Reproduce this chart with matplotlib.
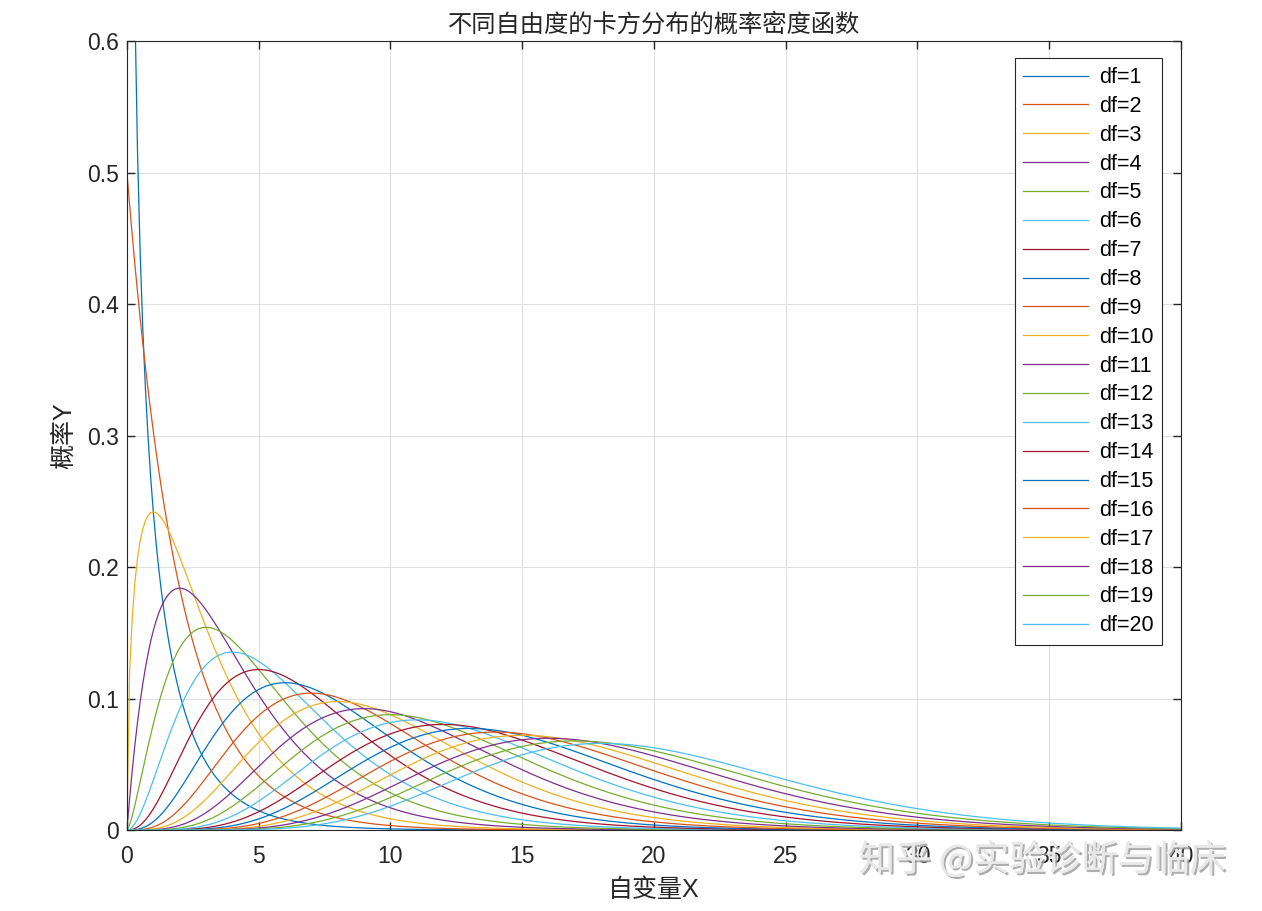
import math
import numpy as np
import matplotlib
matplotlib.use('Agg')
import matplotlib.pyplot as plt
import matplotlib.patheffects as pe

plt.rcParams['font.family'] = ['Liberation Sans', 'Noto Sans CJK SC', 'DejaVu Sans']

# degrees of freedom shown, x grid of the original MATLAB script
dfs = list(range(1, 21))
x = np.arange(0, 40.01, 0.1)
legend_labels = ['df=%d' % k for k in dfs]
x_ticks = [0, 5, 10, 15, 20, 25, 30, 35, 40]
y_ticks = [0, 0.1, 0.2, 0.3, 0.4, 0.5, 0.6]

# MATLAB default color order
colors = ['#0072BD', '#D95319', '#EDB120', '#7E2F8E', '#77AC30', '#4DBEEE', '#A2142F']


def chi2_pdf(xv, k):
    with np.errstate(divide='ignore', invalid='ignore'):
        y = xv ** (k / 2 - 1) * np.exp(-xv / 2) / (2 ** (k / 2) * math.gamma(k / 2))
    return y


fig = plt.figure(figsize=(12.62, 9.11), dpi=100)
ax = fig.add_axes([0.1006, 0.0889, 0.8352, 0.866])

for i, k in enumerate(dfs):
    ax.plot(x, chi2_pdf(x, k), color=colors[i % len(colors)], lw=0.9, label=legend_labels[i])

ax.set_xlim(0, 40)
ax.set_ylim(0, 0.6)
ax.set_xticks(x_ticks)
ax.set_yticks(y_ticks)
ax.set_xticklabels([str(t) for t in x_ticks])
ax.set_yticklabels(['0', '0.1', '0.2', '0.3', '0.4', '0.5', '0.6'])
ax.grid(True, color='#e0e0e0', lw=0.8)
ax.set_axisbelow(True)
ax.tick_params(direction='in', top=True, right=True, labelsize=16.5, colors='#262626',
               length=6, width=1)
ax.tick_params(axis='x', pad=11)
ax.tick_params(axis='y', pad=6)
for s in ax.spines.values():
    s.set_color('#262626')
    s.set_linewidth(0.8)

ax.set_title('不同自由度的卡方分布的概率密度函数', fontsize=17.5, color='#262626', pad=7)
ax.set_xlabel('自变量X', fontsize=18, color='#262626', labelpad=7)
ax.set_ylabel('概率Y', fontsize=18, color='#262626', labelpad=8)

leg = ax.legend(loc='upper right', bbox_to_anchor=(0.982, 0.978), fontsize=15.5,
                fancybox=False, edgecolor='#262626', framealpha=1, borderaxespad=0,
                handlelength=3.0, labelspacing=0.365, borderpad=0.4, handletextpad=0.5)
leg.get_frame().set_linewidth(0.8)

# watermark
fig.text(0.826, 0.056, '知乎 @实验诊断与临床', fontsize=26, color='#e8e8e8',
         ha='center', va='center', family=['Noto Sans CJK SC'],
         path_effects=[pe.withSimplePatchShadow(offset=(1.5, -1.5), shadow_rgbFace='#9a9a9a', alpha=0.8),
                       pe.Normal()])

fig.savefig('out.png', dpi=100)
